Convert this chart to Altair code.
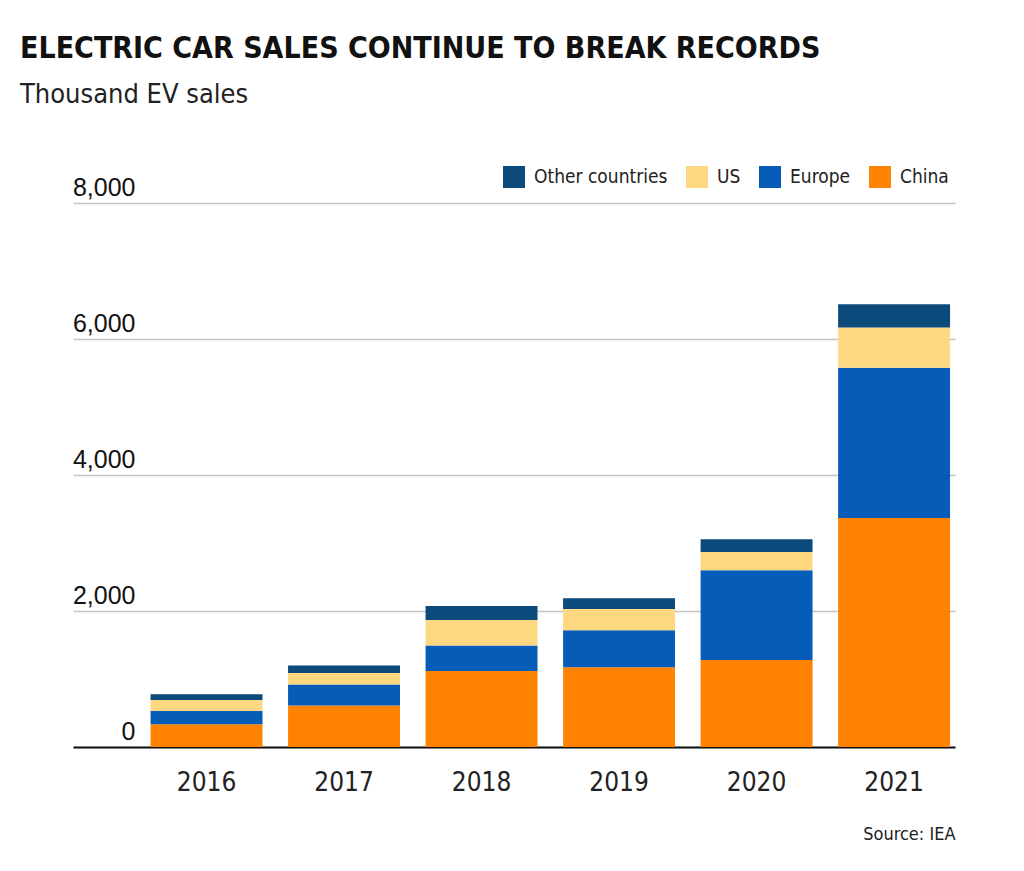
import altair as alt
import pandas as pd

years = ["2016", "2017", "2018", "2019", "2020", "2021"]
china = [333, 609, 1118, 1172, 1279, 3368]
europe = [196, 309, 373, 544, 1319, 2211]
us = [162, 170, 377, 313, 270, 589]
other = [84, 109, 206, 157, 186, 342]

regions = ["Other countries", "US", "Europe", "China"]
colors = ["#0b4a7a", "#fed880", "#075cb7", "#ff8200"]
stack_order = {"China": 0, "Europe": 1, "US": 2, "Other countries": 3}

rows = []
for i, y in enumerate(years):
    for name, vals in [("China", china), ("Europe", europe), ("US", us), ("Other countries", other)]:
        rows.append({"year": y, "region": name, "value": vals[i], "ord": stack_order[name]})
df = pd.DataFrame(rows)

NARROW = "Liberation Sans Narrow, DejaVu Sans Condensed, sans-serif"
REG = "Liberation Sans, Arial, Helvetica, sans-serif"

chart = alt.Chart(df).mark_bar().encode(
    x=alt.X(
        "year:N",
        sort=years,
        scale=alt.Scale(paddingInner=0.186, paddingOuter=0.3, align=0.94),
        axis=alt.Axis(
            title="Source: IEA",
            titleFont=NARROW,
            titleFontSize=18,
            titleFontWeight="normal",
            titleColor="#222222",
            titleAnchor="end",
            titleAlign="right",
            titlePadding=30,
            labelFont=NARROW,
            labelFontSize=26,
            labelColor="#222222",
            labelPadding=22,
            labelAngle=0,
            ticks=False,
            domainColor="#111111",
            domainWidth=2,
            grid=False,
        ),
    ),
    y=alt.Y(
        "value:Q",
        stack="zero",
        scale=alt.Scale(domain=[0, 8000], nice=False),
        axis=alt.Axis(
            title=None,
            values=[0, 2000, 4000, 6000, 8000],
            format=",d",
            labelFont=REG,
            labelFontSize=25,
            labelColor="#111111",
            labelAlign="right",
            labelBaseline="alphabetic",
            labelPadding=-62,
            labelOffset=-8,
            ticks=False,
            domain=False,
            grid=True,
            gridColor="#c4c4c4",
            gridWidth=1.5,
        ),
    ),
    color=alt.Color(
        "region:N",
        scale=alt.Scale(domain=regions, range=colors),
        legend=alt.Legend(
            title=None,
            orient="none",
            direction="horizontal",
            legendX=430,
            legendY=-37,
            symbolType="square",
            symbolSize=484,
            symbolStrokeWidth=0,
            symbolOpacity=1,
            labelFont=NARROW,
            labelFontSize=19,
            labelColor="#222222",
            labelOffset=9,
            labelLimit=300,
            columnPadding=18,
            padding=0,
        ),
    ),
    order=alt.Order("ord:Q", sort="ascending"),
).properties(
    width=882,
    height=544,
    title=alt.TitleParams(
        text="ELECTRIC CAR SALES CONTINUE TO BREAK RECORDS",
        subtitle="Thousand EV sales",
        anchor="start",
        frame="group",
        font=NARROW,
        fontSize=30,
        fontWeight="bold",
        color="#111111",
        subtitleFont=NARROW,
        subtitleFontSize=27,
        subtitleColor="#222222",
        subtitlePadding=18,
        dx=-53,
        offset=58,
    ),
    autosize=alt.AutoSizeParams(type="none"),
    padding={"left": 73, "top": 203, "right": 69, "bottom": 124},
    background="white",
).configure_view(stroke=None)

chart.save("out.html", embed_options={"renderer": "svg", "actions": False})
